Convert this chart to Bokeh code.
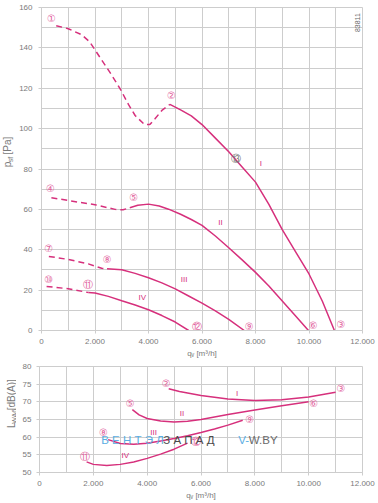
import math
from bokeh.plotting import figure
from bokeh.models import FixedTicker, Label, Range1d
from bokeh.layouts import column, row
from bokeh.embed import file_html
from bokeh.resources import INLINE
from bokeh.core.properties import value

# ---------------- data ----------------
x_ticks = [0, 2000, 4000, 6000, 8000, 10000, 12000]
x_tick_labels = ["0", "2.000", "4.000", "6.000", "8.000", "10.000", "12.000"]
x_minor = [1000, 3000, 5000, 7000, 9000, 11000]
p_ticks = [0, 20, 40, 60, 80, 100, 120, 140, 160]
p_minor = [10, 30, 50, 70, 90, 110, 130, 150]
l_ticks = [50, 55, 60, 65, 70, 75, 80]

# pressure curves (q in m3/h, p in Pa)
c1_dash_q = [550, 1000, 1500, 1800, 2250, 2600, 2950, 3250, 3500, 3850, 4050, 4250, 4500, 4800]
c1_dash_p = [151, 149.5, 146.5, 143, 134, 127, 119.5, 112, 106.5, 102, 102, 105, 109, 112]
c1_q = [4800, 5200, 5600, 6000, 6500, 7000, 7500, 8000, 8500, 9000, 9500, 10000, 10500, 10950]
c1_p = [112, 109.3, 106.3, 102, 95.3, 88.5, 81, 73.5, 62.5, 50, 39, 28, 14.5, 0]

c2_dash_q = [370, 1000, 2000, 2750, 3050, 3300]
c2_dash_p = [65.8, 64.4, 62.3, 60.0, 59.8, 60.8]
c2_q = [3300, 3600, 4000, 4400, 4750, 5200, 5600, 6000, 6500, 7000, 7500, 8000, 8500, 9000, 9500, 9980]
c2_p = [60.8, 62.0, 62.6, 61.7, 60.1, 57.6, 55.0, 52.1, 46.8, 41.0, 35.0, 28.8, 22.0, 14.6, 7.2, 0]

c3_dash_q = [275, 1000, 1750, 2250, 2450]
c3_dash_p = [36.7, 35.2, 33.0, 30.8, 30.6]
c3_q = [2450, 3000, 3500, 4000, 4500, 5000, 5500, 6000, 6500, 7000, 7580]
c3_p = [30.6, 30.1, 28.3, 26.1, 23.6, 20.6, 17.1, 13.6, 9.7, 5.5, 0]

c4_dash_q = [190, 1000, 1750]
c4_dash_p = [21.8, 20.7, 18.8]
c4_q = [1750, 2000, 2500, 3000, 3500, 4000, 4500, 5000, 5500]
c4_p = [18.8, 18.6, 16.9, 14.7, 12.6, 10.3, 7.4, 4.2, 0]

# sound power curves
b1_q = [4800, 5200, 6000, 7000, 8000, 9000, 10000, 11000]
b1_L = [73.7, 72.9, 71.8, 70.8, 70.4, 70.6, 71.4, 72.7]
b2_q = [3450, 3700, 4000, 4500, 5000, 5500, 6000, 7000, 8000, 9000, 10000]
b2_L = [67.8, 66.3, 65.3, 64.6, 64.3, 64.5, 65.0, 66.4, 67.7, 68.9, 70.0]
b3_q = [2550, 3000, 3500, 4000, 4500, 5000, 5500, 6000, 6500, 7000, 7550]
b3_L = [59.3, 58.2, 58.0, 58.3, 58.9, 59.6, 60.4, 61.3, 62.3, 63.4, 64.8]
b4_q = [1750, 2000, 2500, 3000, 3500, 4000, 4500, 5000, 5500]
b4_L = [53.0, 52.3, 52.0, 52.3, 53.0, 54.0, 55.2, 56.6, 58.3]

# operating point markers
top_pt_text = ["①", "②", "③", "④", "⑤", "⑥", "⑦", "⑧", "⑨", "⑩", "⑪", "⑫"]
top_pt_q = [372, 4859, 11200, 335, 3446, 10160, 275, 2454, 7770, 275, 1736, 5825]
top_pt_p = [154.4, 116.5, 2.8, 70.2, 65.8, 2.5, 40.5, 35.0, 2.1, 25.1, 22.8, 2.1]
top_ref_text = ["⑬"]
top_ref_q = [7286]
top_ref_p = [85.4]
bot_pt_text = ["②", "③", "⑤", "⑥", "⑧", "⑨", "⑪", "⑫"]
bot_pt_q = [4710, 11200, 3372, 10190, 2380, 7807, 1703, 5830]
bot_pt_L = [75.3, 73.9, 69.5, 69.5, 61.4, 65.1, 54.6, 58.7]

curve_names = ["I", "II", "III", "IV"]
top_name_q = [8204, 6690, 5331, 3770]
top_name_p = [82.6, 53.7, 25.1, 16.5]
bot_name_q = [7340, 5290, 4238, 3186]
bot_name_L = [72.5, 66.7, 61.2, 54.9]

top_ylabel = [("p", 10, 5.6, False), ("sf", 7, 8.5, True), ("[Pa]", 10, 17.8, False)]
bot_ylabel = [("L", 10, 5.6, False), ("WA6", 7, 18.2, True), ("[dB(A)]", 10, 31.1, False)]

# ---------------- style ----------------
PINK = "#d6307c"
PINK_LT = "#e2629d"
GRID = "#cdcdcd"
TXT = "#7a7a7a"
FONT = "Liberation Sans"
LW = 16           # width of the side strip holding the y-axis titles
W = 376 - LW
FL, FR = 39 - LW, 14


def style(p, yticks, yminor):
    p.xaxis.ticker = FixedTicker(ticks=x_ticks, minor_ticks=x_minor)
    p.xaxis.major_label_overrides = {t: s for t, s in zip(x_ticks, x_tick_labels)}
    p.yaxis.ticker = FixedTicker(ticks=yticks, minor_ticks=yminor)
    for ax in (p.xaxis, p.yaxis):
        ax.axis_line_color = GRID
        ax.major_tick_line_color = GRID
        ax.major_tick_in = 0
        ax.major_tick_out = 3
        ax.minor_tick_line_color = None
        ax.major_label_text_font = FONT
        ax.major_label_text_font_size = "8px"
        ax.major_label_text_color = TXT
        ax.axis_label_text_font = FONT
        ax.axis_label_text_font_size = "8px"
        ax.axis_label_text_font_style = "normal"
        ax.axis_label_text_color = TXT
    p.xaxis.major_label_standoff = 4
    p.yaxis.major_label_standoff = 5
    p.xaxis.axis_label = "qᵥ [m³/h]"
    p.xaxis.axis_label_standoff = 2
    for g in (p.xgrid, p.ygrid):
        g.grid_line_color = GRID
        g.grid_line_width = 1
        g.minor_grid_line_color = GRID
        g.minor_grid_line_width = 1
    p.outline_line_color = GRID
    p.background_fill_color = "white"
    p.border_fill_color = "white"


def title_strip(h, xc, yc_from_top, parts):
    """narrow figure (pixel coordinates) that carries a rotated axis title with a subscript"""
    s = figure(width=LW, height=h, output_backend="svg", toolbar_location=None,
               x_axis_type=None, y_axis_type=None,
               x_range=Range1d(0, LW), y_range=Range1d(0, h),
               min_border_left=0, min_border_right=0, min_border_top=0, min_border_bottom=0)
    s.grid.visible = False
    s.outline_line_color = None
    s.border_fill_color = "white"
    total = sum(w for _, _, w, _ in parts)
    y = h - yc_from_top - total / 2
    for text, fs, wpx, sub in parts:
        s.text([xc + (2.5 if sub else 0)], [y], text=[text], angle=math.pi / 2,
               text_font=value(FONT), text_font_size=f"{fs}px", text_color=TXT,
               text_align="left", text_baseline="middle")
        y += wpx
    return s


# ---------------- top chart ----------------
T1, B1 = 7, 30
H1 = 360
p1 = figure(width=W, height=H1, output_backend="svg", toolbar_location=None,
            x_range=Range1d(0, 12000), y_range=Range1d(0, 160),
            min_border_left=FL, min_border_right=FR, min_border_top=T1, min_border_bottom=B1)
style(p1, p_ticks, p_minor)

for dq, dp, sq, sp in [(c1_dash_q, c1_dash_p, c1_q, c1_p), (c2_dash_q, c2_dash_p, c2_q, c2_p),
                       (c3_dash_q, c3_dash_p, c3_q, c3_p), (c4_dash_q, c4_dash_p, c4_q, c4_p)]:
    p1.line(dq, dp, line_color=PINK, line_width=1.5, line_dash="6 4")
    p1.line(sq, sp, line_color=PINK, line_width=1.5)

p1.text(top_pt_q, top_pt_p, text=top_pt_text, text_font=value("DejaVu Sans"), text_font_size="10px",
        text_color=PINK_LT, text_align="center", text_baseline="middle")
p1.text(top_ref_q, top_ref_p, text=top_ref_text, text_font=value("DejaVu Sans"), text_font_size="10px",
        text_color="#777777", text_align="center", text_baseline="middle")
p1.text(top_name_q, top_name_p, text=curve_names, text_font=value(FONT), text_font_size="8px",
        text_color=PINK, text_align="center", text_baseline="middle")

p1.add_layout(Label(x=11810, y=152.5, text="83811", angle=math.pi / 2, text_font=FONT,
                    text_font_size="7px", text_color="#666666", text_align="center",
                    text_baseline="middle"))

s1 = title_strip(H1, 7, 162, top_ylabel)

# ---------------- bottom chart ----------------
T2, B2 = 6, 29
H2 = 142
p2 = figure(width=W, height=H2, output_backend="svg", toolbar_location=None,
            x_range=Range1d(0, 12000), y_range=Range1d(50, 80),
            min_border_left=FL, min_border_right=FR, min_border_top=T2, min_border_bottom=B2)
style(p2, l_ticks, [])
xpx = 12000 / (W - FL - FR)

for q, L in [(b1_q, b1_L), (b2_q, b2_L), (b3_q, b3_L), (b4_q, b4_L)]:
    p2.line(q, L, line_color=PINK, line_width=1.5)

p2.text(bot_pt_q, bot_pt_L, text=bot_pt_text, text_font=value("DejaVu Sans"), text_font_size="10px",
        text_color=PINK_LT, text_align="center", text_baseline="middle")
p2.text(bot_name_q, bot_name_L, text=curve_names, text_font=value(FONT), text_font_size="8px",
        text_color=PINK, text_align="center", text_baseline="middle")

# watermark
for txt, xq, col in [("В Е Н Т Э Л", 2294, "#5aaee3"), ("З А П А Д", 4600, "#4a4a4a"),
                     ("V-", 7387, "#5aaee3"), ("W.BY", 7387 + 10.5 * xpx, "#6a6a6a")]:
    p2.add_layout(Label(x=xq, y=59.3, text=txt, text_font=FONT, text_font_size="11.5px",
                        text_color=col, text_align="left", text_baseline="middle"))

s2 = title_strip(H2, 11, 415 - H1, bot_ylabel)

layout = column(row(s1, p1, spacing=0), row(s2, p2, spacing=0), spacing=0)
open("out.html", "w").write(file_html(layout, INLINE))
